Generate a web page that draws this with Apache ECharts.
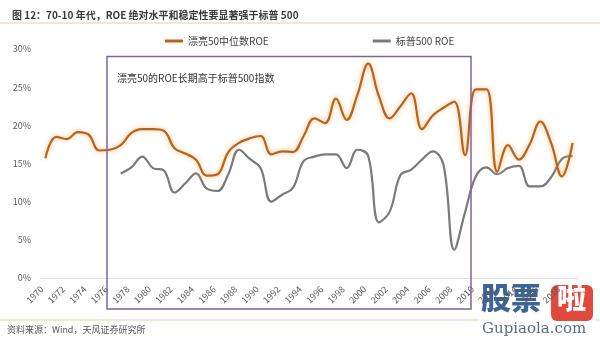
<!DOCTYPE html>
<html>
<head>
<meta charset="utf-8">
<script src="https://cdn.jsdelivr.net/npm/echarts@6/dist/echarts.min.js"></script>
<style>
  html, body { margin: 0; padding: 0; background: #ffffff; }
  #chart { width: 600px; height: 342px; }
</style>
</head>
<body>
<div id="chart"></div>
<script>
// Years on the category axis
const years = [];
for (let y = 1970; y <= 2019; y++) years.push(String(y));

// Median ROE of the Nifty Fifty, percent (1970-2019)
const niftyRoe = [
  15.7, 18.5, 18.2, 19.1, 18.8, 16.7, 16.8, 17.4, 19.0, 19.5,
  19.5, 19.3, 17.0, 16.3, 15.5, 13.4, 13.6, 16.5, 17.7, 18.3,
  18.6, 16.2, 16.6, 16.5, 18.6, 20.9, 20.3, 23.5, 20.7, 24.0,
  28.1, 23.8, 20.9, 22.5, 24.2, 19.5, 21.3, 22.3, 23.1, 16.1,
  24.7, 24.7, 13.9, 17.4, 15.5, 17.5, 20.5, 17.7, 13.3, 17.7
];

// S&P 500 ROE, percent (series begins in 1977)
const spxRoe = [
  null, null, null, null, null, null, null, 13.7, 14.5, 15.9,
  14.4, 14.1, 11.2, 12.4, 13.7, 11.7, 11.4, 13.6, 16.8, 15.6,
  14.4, 10.0, 10.9, 11.8, 15.3, 15.9, 16.2, 16.2, 14.4, 16.8,
  16.0, 7.3, 8.7, 13.5, 14.2, 15.5, 16.6, 14.8, 3.7, 8.6,
  13.3, 14.5, 13.6, 14.4, 14.7, 12.0, 12.0, 13.2, 15.6, 16.0
];

const yTicks = [0, 5, 10, 15, 20, 25, 30];
const seriesNames = ['漂亮50中位数ROE', '标普500 ROE'];

const chart = echarts.init(document.getElementById('chart'), null, { renderer: 'canvas' });

const gridLeft = 40, gridRight = 22, gridTop = 49, gridBottom = 64;

chart.setOption({
  backgroundColor: '#ffffff',
  animation: false,
  textStyle: { fontFamily: '"Noto Sans CJK SC", "Noto Sans", sans-serif' },
  title: {
    text: '图 12：70-10 年代，ROE 绝对水平和稳定性要显著强于标普 500',
    left: 7, top: 5,
    textStyle: { fontSize: 10, fontWeight: 'bold', color: '#3a3a3a' }
  },
  legend: {
    data: seriesNames,
    left: 160, top: 31,
    itemGap: 104,
    itemWidth: 18, itemHeight: 3,
    icon: 'rect',
    textStyle: { fontSize: 10, color: '#404040' }
  },
  grid: { left: gridLeft, right: gridRight, top: gridTop, bottom: gridBottom },
  xAxis: {
    type: 'category',
    data: years,
    boundaryGap: true,
    axisLine: { lineStyle: { color: '#e2e2e2', width: 1 } },
    axisTick: { show: false },
    axisLabel: {
      interval: 1,
      rotate: 45,
      fontSize: 9,
      color: '#595959',
      margin: 6,
      padding: [0, 5, 0, 0]
    }
  },
  yAxis: {
    type: 'value',
    min: yTicks[0],
    max: yTicks[yTicks.length - 1],
    interval: 5,
    splitLine: { show: false },
    axisLine: { show: false },
    axisTick: { show: false },
    axisLabel: {
      formatter: v => v + '%',
      fontSize: 9,
      color: '#595959',
      margin: 9
    }
  },
  series: [
    {
      name: seriesNames[0],
      type: 'line',
      data: niftyRoe,
      smooth: 0.4,
      showSymbol: false,
      itemStyle: { color: '#b8621f' },
      lineStyle: {
        color: '#b8621f', width: 2.2,
        shadowColor: 'rgba(250, 175, 90, 0.85)', shadowBlur: 5
      },
      z: 3
    },
    {
      name: seriesNames[1],
      type: 'line',
      data: spxRoe,
      smooth: 0.4,
      showSymbol: false,
      connectNulls: false,
      itemStyle: { color: '#7a7a7a' },
      lineStyle: { color: '#7a7a7a', width: 2.2 },
      z: 2
    }
  ],
  graphic: [
    // header and footer rules
    { type: 'rect', left: 0, top: 22, shape: { width: 600, height: 2 }, style: { fill: '#efe8d6' }, silent: true },
    { type: 'rect', left: 0, top: 319, shape: { width: 600, height: 2 }, style: { fill: '#efe8d6' }, silent: true },
    {
      type: 'text', left: 7, top: 325,
      style: { text: '资料来源：Wind，天风证券研究所', fontSize: 9, fill: '#555555',
               fontFamily: '"Noto Sans CJK SC", sans-serif' }
    },
    // highlighted period box
    {
      type: 'rect', z: 10,
      shape: { x: 107, y: 56.5, width: 364, height: 252.5 },
      style: { fill: 'none', stroke: '#7d66a0', lineWidth: 1.5 },
      silent: true
    },
    {
      type: 'text', left: 117, top: 73, z: 10,
      style: { text: '漂亮50的ROE长期高于标普500指数', fontSize: 10, fill: '#333333',
               fontFamily: '"Noto Sans CJK SC", sans-serif' }
    },
    // site badge in the lower right corner
    {
      type: 'group', right: 4, bottom: 3, z: 20,
      children: [
        { type: 'rect', shape: { x: 0, y: 0, width: 117, height: 57 }, style: { fill: '#ffffff' } },
        {
          type: 'text', x: 2, y: 1,
          style: { text: '股票', fontSize: 30, fontWeight: 900, fill: '#3d6494',
                   fontFamily: '"Noto Sans CJK SC", sans-serif' }
        },
        { type: 'rect', shape: { x: 72, y: 3, width: 42, height: 36, r: 6 }, style: { fill: '#e04a3c' } },
        {
          type: 'text', x: 78, y: 1,
          style: { text: '啦', fontSize: 29, fontWeight: 900, fill: '#ffffff',
                   fontFamily: '"Noto Sans CJK SC", sans-serif' }
        },
        {
          type: 'text', x: 3, y: 40,
          style: { text: 'Gupiaola.com', fontSize: 15, fill: '#5b6f80',
                   fontFamily: '"DejaVu Serif", "Liberation Serif", serif' }
        }
      ]
    }
  ]
});
</script>
</body>
</html>
